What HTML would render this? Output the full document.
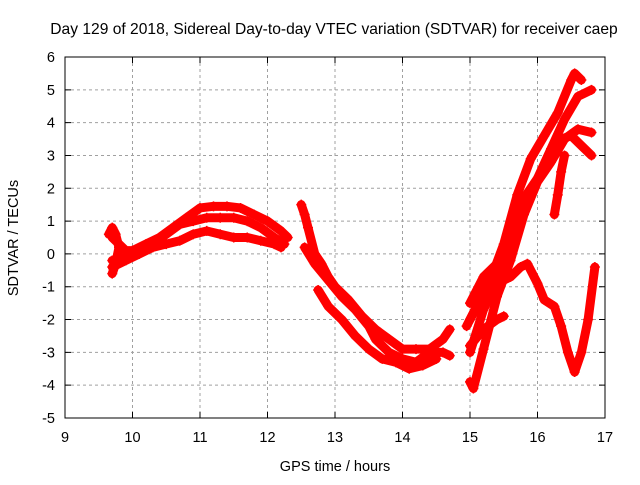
<!DOCTYPE html>
<html><head><meta charset="utf-8"><style>
body{margin:0;background:#fff;font-family:"Liberation Sans",sans-serif}
svg text{font-family:"Liberation Sans",sans-serif;font-size:14.5px;fill:#000}
</style></head><body>
<svg id="chart" width="640" height="480" xmlns="http://www.w3.org/2000/svg">
<rect width="640" height="480" fill="#fff"/>
<text x="334" y="34" text-anchor="middle" style="font-size:15.6px">Day 129 of 2018, Sidereal Day-to-day VTEC variation (SDTVAR) for receiver caep</text>
<text x="335" y="471" text-anchor="middle">GPS time / hours</text>
<text transform="translate(18,238) rotate(-90)" text-anchor="middle">SDTVAR / TECUs</text>
<g id="grid"></g><g id="marks"></g><g id="axes"></g>
</svg>
<script>
const xTicks=[9,10,11,12,13,14,15,16,17];
const yTicks=[6,5,4,3,2,1,0,-1,-2,-3,-4,-5];
const trackA1=[[9.7,0.5],[9.8,0.3],[9.9,0.1],[10.0,0.1],[10.2,0.3],[10.4,0.5],[10.6,0.8],[10.8,1.1],[11.0,1.4],[11.2,1.45],[11.4,1.45],[11.6,1.4],[11.8,1.2],[12.0,1.0],[12.2,0.7],[12.3,0.5]];
const trackA2=[[9.7,-0.2],[9.9,-0.1],[10.1,0.1],[10.3,0.3],[10.5,0.6],[10.7,0.9],[10.9,1.0],[11.1,1.1],[11.3,1.1],[11.5,1.1],[11.7,1.0],[11.9,0.8],[12.1,0.5],[12.25,0.3]];
const trackA3=[[9.7,-0.4],[9.9,-0.2],[10.1,0.0],[10.3,0.2],[10.5,0.3],[10.7,0.4],[10.9,0.6],[11.1,0.7],[11.3,0.6],[11.5,0.5],[11.7,0.5],[11.9,0.4],[12.1,0.3],[12.2,0.2]];
const trackA4=[[9.65,0.6],[9.7,0.8],[9.75,0.6],[9.8,0.2],[9.75,-0.3],[9.7,-0.6]];
const trackB1=[[12.5,1.5],[12.55,1.2],[12.6,0.8],[12.7,0.0],[12.8,-0.3],[12.9,-0.7],[13.0,-1.0],[13.2,-1.4],[13.4,-1.9],[13.6,-2.3],[13.8,-2.6],[14.0,-2.9],[14.2,-2.9],[14.4,-2.9],[14.6,-2.6],[14.7,-2.3]];
const trackB2=[[12.55,0.2],[12.7,-0.3],[12.9,-0.8],[13.1,-1.3],[13.3,-1.7],[13.5,-2.2],[13.6,-2.6],[13.8,-3.0],[14.0,-3.2],[14.2,-3.3],[14.4,-3.0],[14.6,-3.0],[14.7,-3.1]];
const trackB3=[[12.75,-1.1],[12.9,-1.6],[13.1,-2.0],[13.3,-2.5],[13.5,-2.9],[13.7,-3.2],[13.9,-3.3],[14.1,-3.5],[14.3,-3.4],[14.5,-3.2]];
const trackC1=[[14.95,-2.2],[15.1,-1.6],[15.3,-0.8],[15.5,0.3],[15.7,1.8],[15.9,2.9],[16.1,3.6],[16.3,4.3],[16.5,5.3],[16.55,5.5],[16.65,5.3]];
const trackC2=[[15.0,-3.0],[15.2,-1.7],[15.4,-0.8],[15.6,0.5],[15.8,1.7],[16.0,2.3],[16.2,3.2],[16.4,4.1],[16.6,4.8],[16.8,5.0]];
const trackC3=[[15.0,-3.9],[15.05,-4.1],[15.2,-2.9],[15.4,-1.3],[15.6,-0.2],[15.8,1.2],[16.0,2.2],[16.2,2.8],[16.4,3.5],[16.6,3.8],[16.8,3.7]];
const trackC4=[[15.0,-1.5],[15.2,-0.7],[15.4,-0.3],[15.6,0.5],[15.8,1.5],[16.0,2.3],[16.2,2.9],[16.35,3.5],[16.5,3.6],[16.65,3.3],[16.8,3.0]];
const trackC5=[[16.25,1.2],[16.3,1.8],[16.35,2.5],[16.4,3.0]];
const trackC6=[[15.0,-2.0],[15.2,-1.2],[15.4,-0.9],[15.6,-0.7],[15.75,-0.4],[15.85,-0.3],[16.0,-0.9],[16.1,-1.4],[16.25,-1.6],[16.35,-2.2],[16.45,-3.0],[16.55,-3.6],[16.65,-3.0],[16.75,-2.0],[16.85,-0.4]];
const trackC7=[[15.0,-2.8],[15.2,-2.3],[15.4,-2.0],[15.5,-1.9]];
const tracks=[trackA1,trackA2,trackA3,trackA4,trackB1,trackB2,trackB3,trackC1,trackC2,trackC3,trackC4,trackC5,trackC6,trackC7];
const L=65,R=605,T=57,B=418,xMin=9,xMax=17,yMin=-5,yMax=6;
const X=v=>L+(v-xMin)/(xMax-xMin)*(R-L);
const Y=v=>B-(v-yMin)/(yMax-yMin)*(B-T);
const NS="http://www.w3.org/2000/svg";
function mk(tag,attrs,parent){const e=document.createElementNS(NS,tag);for(const k in attrs)e.setAttribute(k,attrs[k]);parent.appendChild(e);return e;}
const grid=document.getElementById('grid'),axes=document.getElementById('axes'),marks=document.getElementById('marks');
xTicks.forEach(t=>{
 if(t>xMin&&t<xMax){const g=mk('line',{x1:X(t),x2:X(t),y1:T,y2:B,stroke:'#a0a0a0','stroke-dasharray':'3,3'},grid);
 
 }
 const tk=mk('path',{d:`M${X(t)},${B}v-6M${X(t)},${T}v6`,stroke:'#000'},axes);
 
 
 const lb=mk('text',{x:X(t),y:B+24,'text-anchor':'middle'},axes);lb.textContent=t;
 
 
});
yTicks.forEach(t=>{
 if(t>yMin&&t<yMax){const g=mk('line',{x1:L,x2:R,y1:Y(t),y2:Y(t),stroke:'#a0a0a0','stroke-dasharray':'3,3'},grid);
 
 }
 const tk=mk('path',{d:`M${L},${Y(t)}h6M${R},${Y(t)}h-6`,stroke:'#000'},axes);
 
 
 const lb=mk('text',{x:L-10,y:Y(t)+5,'text-anchor':'end'},axes);lb.textContent=t;
 
 
});
const fr=mk('rect',{x:L,y:T,width:R-L,height:B-T,fill:'none',stroke:'#000'},axes);


tracks.forEach(tr=>{
 const pl=mk('polyline',{points:tr.map(p=>X(p[0])+','+Y(p[1])).join(' '),fill:'none',stroke:'#f00','stroke-width':9,'stroke-linejoin':'round','stroke-linecap':'round'},marks);
 
 
 tr.forEach(p=>{const x=X(p[0]),y=Y(p[1]);
  const m=mk('path',{d:`M${x-5},${y}h10M${x},${y-5}v10`,stroke:'#f00','stroke-width':1.5},marks);
  
  });
});
</script>
</body></html>
